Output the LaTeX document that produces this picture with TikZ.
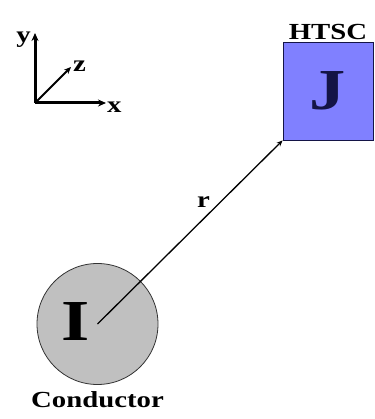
\documentclass[tikz,border=0pt]{standalone}
\usepackage{fontspec}
\setmainfont{Liberation Serif}[FakeStretch=1.25]
\usetikzlibrary{arrows.meta,positioning}
\definecolor{htscblue}{RGB}{128,128,255}
\definecolor{condgray}{RGB}{192,192,192}
\definecolor{darknavy}{RGB}{20,20,70}

\begin{document}
\begin{tikzpicture}[x=1pt, y=-1pt,
  lbl/.style={font=\fontsize{23}{25}\selectfont\bfseries, inner sep=1pt},
  big/.style={font=\fontsize{58}{60}\selectfont\bfseries, inner sep=0pt},
  axis/.style={line width=3pt, -{Stealth[length=8pt,width=7pt]}},
  zaxis/.style={line width=1.8pt, -{Stealth[length=7pt,width=6pt]}},
  arr/.style={line width=1.3pt, -{Stealth[length=6pt,width=5pt]}}
]
\useasboundingbox (0,0) rectangle (374,419);

% axes
\coordinate (o) at (35,103);
\coordinate (ytip) at (35,33);
\coordinate (xtip) at (106,103);
\coordinate (ztip) at (71,67);
\draw[axis] (o) -- (ytip);
\draw[axis] (o) -- (xtip);
\draw[zaxis] (o) -- (ztip);
\node[lbl, left=3pt of ytip, yshift=-7pt] (ylbl) {y};
\node[lbl, right=0pt of xtip, yshift=-4pt] (xlbl) {x};
\node[lbl, right=1pt of ztip, yshift=1pt] (zlbl) {z};

\node[draw=darknavy, line width=0.9pt, fill=htscblue, minimum width=90pt, minimum height=98pt,
  big, text=darknavy] (htsc) at (328,91) {J};
\node[lbl, above=1pt of htsc] (htsclbl) {HTSC};

\node[circle, draw=black!80, line width=0.8pt, fill=condgray, minimum size=121pt] (cond) at (97.5,324) {};
\node[big] (cur) at (76,322) {I};
\node[lbl, below=5pt of cond] (condlbl) {Conductor};

\draw[arr] (cond.center) -- node[lbl, pos=0.62, above left=1pt] (rlbl) {r} (htsc.south west);
\end{tikzpicture}
\end{document}
